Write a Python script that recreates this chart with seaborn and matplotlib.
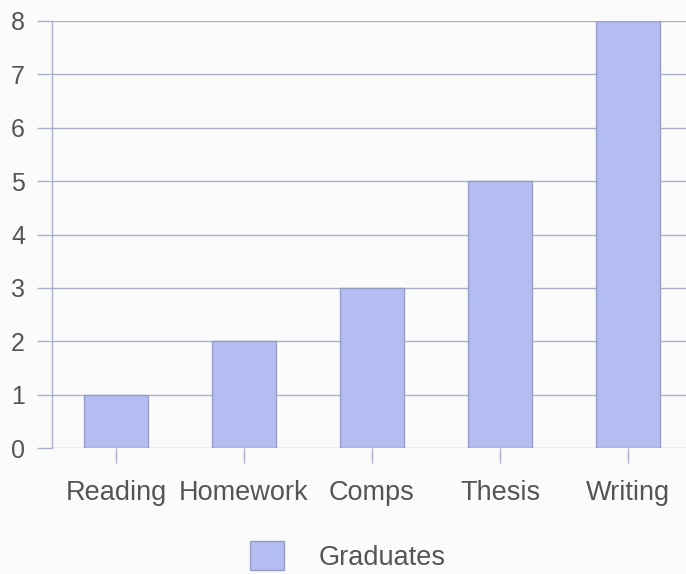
import pandas as pd
import seaborn as sns
import matplotlib.pyplot as plt
from matplotlib.patches import Patch

# chart values
categories = ["Reading", "Homework", "Comps", "Thesis", "Writing"]
graduates = [1, 2, 3, 5, 8]
series_name = "Graduates"

df = pd.DataFrame({"Task": categories, "Count": graduates, "Series": series_name})

sns.set_theme(style="white")
plt.rcParams["font.family"] = ["Liberation Sans", "DejaVu Sans"]

bar_color = "#b3bdf2"
edge_color = "#959dc6"
line_color = "#a9b0cc"
text_color = "#555555"
bg = "#fbfbfc"

fig = plt.figure(figsize=(6.86, 5.74), dpi=100, facecolor=bg)
ax = fig.add_axes([52 / 686, 126 / 574, 640 / 686, 427 / 574])
ax.set_facecolor(bg)

sns.barplot(data=df, x="Task", y="Count", color=bar_color, saturation=1, width=0.5,
            edgecolor=edge_color, linewidth=1, ax=ax, zorder=3)

ax.set_ylim(0, 8)
ax.set_xlim(-0.5, 4.5)
ax.set_yticks(range(0, 9))
ax.yaxis.grid(True, color=line_color, linewidth=1)
ax.set_axisbelow(True)
ax.set_xlabel("")
ax.set_ylabel("")

for side in ["top", "right", "bottom"]:
    ax.spines[side].set_visible(False)
ax.spines["left"].set_color(line_color)
ax.spines["left"].set_linewidth(1)

ax.tick_params(axis="y", length=11, width=1, color=line_color,
               labelsize=18, labelcolor=text_color, pad=8.5, left=True)
ax.tick_params(axis="x", length=11, width=1, color=line_color,
               labelsize=19.5, labelcolor=text_color, pad=12, bottom=True)

handle = Patch(facecolor=bar_color, edgecolor=edge_color, label=series_name)
fig.legend(handles=[handle], loc="center", bbox_to_anchor=(0.507, 0.031),
           frameon=False, fontsize=19.5, labelcolor=text_color,
           handlelength=1.25, handleheight=1.25, handletextpad=1.3)

fig.savefig("out.png", dpi=100, facecolor=bg)
